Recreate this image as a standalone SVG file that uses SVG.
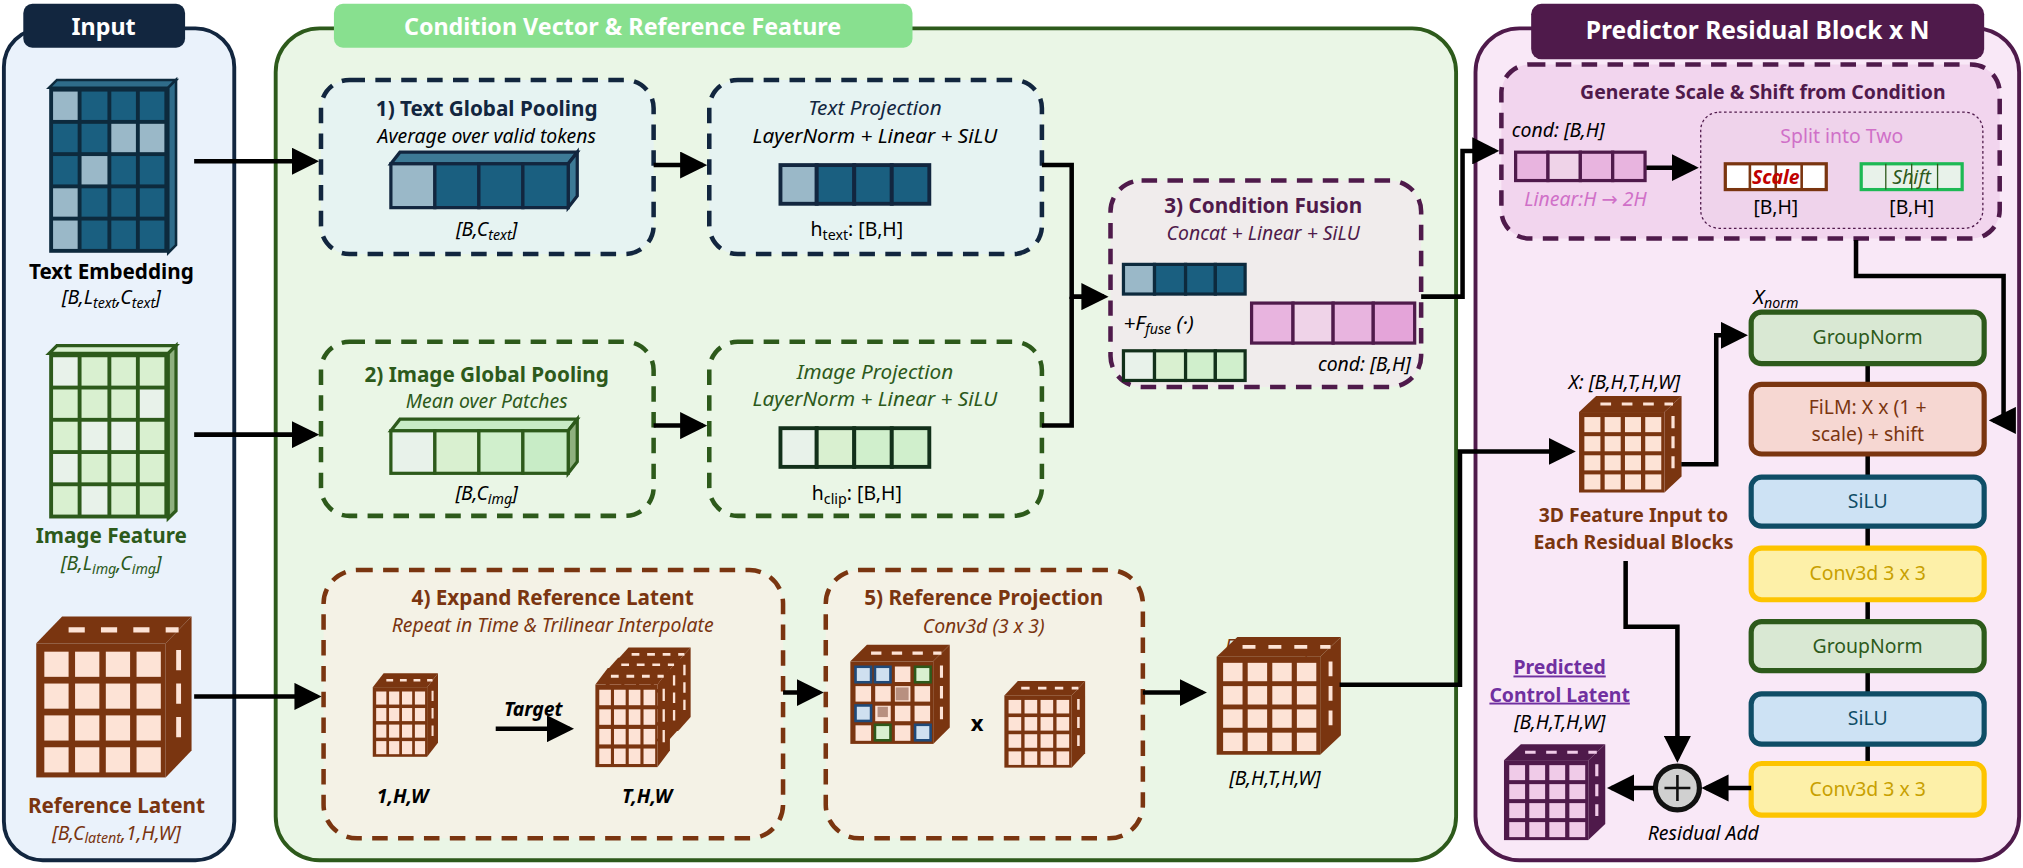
<svg xmlns="http://www.w3.org/2000/svg" width="2023" height="868" viewBox="0 0 2023 868">
<style>
text{font-family:"Noto Sans","DejaVu Sans",sans-serif;font-size:15px;text-anchor:middle}
.b{font-weight:bold}.i{font-style:italic}
.tt{font-size:18px;font-weight:bold;fill:#fff}
.dk{fill:#12263f}.gr{fill:#2d5a1b}.br{fill:#7a3510}.pu{fill:#4f1a4b}.bk{fill:#000}
.ln{fill:none;stroke:#000;stroke-width:3.5}
.dash{stroke-width:3.5;stroke-dasharray:12 8}
.blk{stroke-width:4}
</style>
<defs>
<marker id="ah" markerWidth="6" markerHeight="6" refX="5" refY="3" orient="auto" markerUnits="strokeWidth"><path d="M0,0L6,3L0,6z" fill="#000"/></marker>
<g id="bcube">
<polygon points="0,8 8,0 48,0 40,8" fill="#7a3510"/>
<polygon points="40,8 48,0 48,40 40,48" fill="#7a3510"/>
<path d="M10,4h5M20,4h5M30,4h5M40,4h4" stroke="#fde3d6" stroke-width="1.5"/>
<path d="M44,10v6M44,20v6M44,30v6" stroke="#fde3d6" stroke-width="1.5"/>
<rect x="0" y="8" width="40" height="40" fill="#7a3510"/>
<g fill="#fde3d6"><rect x="2.5" y="10.5" width="7.5" height="7.5"/><rect x="12" y="10.5" width="7.5" height="7.5"/><rect x="21.5" y="10.5" width="7.5" height="7.5"/><rect x="31" y="10.5" width="7.5" height="7.5"/>
<rect x="2.5" y="20" width="7.5" height="7.5"/><rect x="12" y="20" width="7.5" height="7.5"/><rect x="21.5" y="20" width="7.5" height="7.5"/><rect x="31" y="20" width="7.5" height="7.5"/>
<rect x="2.5" y="29.5" width="7.5" height="7.5"/><rect x="12" y="29.5" width="7.5" height="7.5"/><rect x="21.5" y="29.5" width="7.5" height="7.5"/><rect x="31" y="29.5" width="7.5" height="7.5"/>
<rect x="2.5" y="39" width="7.5" height="7.5"/><rect x="12" y="39" width="7.5" height="7.5"/><rect x="21.5" y="39" width="7.5" height="7.5"/><rect x="31" y="39" width="7.5" height="7.5"/></g>
</g>
<g id="pcube">
<polygon points="0,8 8,0 48,0 40,8" fill="#4f1a4b"/>
<polygon points="40,8 48,0 48,40 40,48" fill="#4f1a4b"/>
<path d="M10,4h5M20,4h5M30,4h5M40,4h4" stroke="#f0cbe8" stroke-width="1.5"/>
<path d="M44,10v6M44,20v6M44,30v6" stroke="#f0cbe8" stroke-width="1.5"/>
<rect x="0" y="8" width="40" height="40" fill="#4f1a4b"/>
<g fill="#f0cbe8"><rect x="2.5" y="10.5" width="7.5" height="7.5"/><rect x="12" y="10.5" width="7.5" height="7.5"/><rect x="21.5" y="10.5" width="7.5" height="7.5"/><rect x="31" y="10.5" width="7.5" height="7.5"/>
<rect x="2.5" y="20" width="7.5" height="7.5"/><rect x="12" y="20" width="7.5" height="7.5"/><rect x="21.5" y="20" width="7.5" height="7.5"/><rect x="31" y="20" width="7.5" height="7.5"/>
<rect x="2.5" y="29.5" width="7.5" height="7.5"/><rect x="12" y="29.5" width="7.5" height="7.5"/><rect x="21.5" y="29.5" width="7.5" height="7.5"/><rect x="31" y="29.5" width="7.5" height="7.5"/>
<rect x="2.5" y="39" width="7.5" height="7.5"/><rect x="12" y="39" width="7.5" height="7.5"/><rect x="21.5" y="39" width="7.5" height="7.5"/><rect x="31" y="39" width="7.5" height="7.5"/></g>
</g>
</defs>
<rect width="2023" height="868" fill="#fff"/>
<g transform="scale(1.2943,1.2897)">
<g id="panel-input">
<rect x="3" y="22" width="178" height="645" rx="30" fill="#eaf2fb" stroke="#12263f" stroke-width="3"/>
<rect x="18" y="3" width="125" height="34" rx="7" fill="#12263f"/>
<text x="80" y="27" class="tt">Input</text>
</g>
<g id="panel-cond">
<rect x="213" y="22" width="912" height="645" rx="34" fill="#eaf6e6" stroke="#2d5a1b" stroke-width="3"/>
<rect x="258" y="3" width="447" height="34" rx="7" fill="#88e08f"/>
<text x="481" y="27" class="tt">Condition Vector &amp; Reference Feature</text>
</g>
<g id="panel-pred">
<rect x="1140" y="22" width="420" height="645" rx="34" fill="#f9e8f7" stroke="#4f1a4b" stroke-width="3"/>
<rect x="1183" y="3" width="350" height="43" rx="8" fill="#4f1a4b"/>
<text x="1358" y="30" class="tt" style="font-size:19px">Predictor Residual Block x N</text>
</g>

<g id="text-embedding">
<polygon points="38,68 44,62 136,62 130,68" fill="#2f6c8a" stroke="#0d2a3d" stroke-width="2"/>
<polygon points="130,68 136,62 136,190 130,196" fill="#2f6c8a" stroke="#0d2a3d" stroke-width="2"/>
<rect x="38" y="68" width="92" height="128" fill="#0d2a3d"/>
<g fill="#1a5f80">
<rect x="41" y="71" width="19" height="22" fill="#9ab8c8"/><rect x="63" y="71" width="20" height="22"/><rect x="86" y="71" width="19" height="22"/><rect x="108" y="71" width="19" height="22"/>
<rect x="41" y="96" width="19" height="22"/><rect x="63" y="96" width="20" height="22"/><rect x="86" y="96" width="19" height="22" fill="#9ab8c8"/><rect x="108" y="96" width="19" height="22" fill="#9ab8c8"/>
<rect x="41" y="121" width="19" height="22"/><rect x="63" y="121" width="20" height="22" fill="#9ab8c8"/><rect x="86" y="121" width="19" height="22"/><rect x="108" y="121" width="19" height="22"/>
<rect x="41" y="146" width="19" height="22" fill="#9ab8c8"/><rect x="63" y="146" width="20" height="22"/><rect x="86" y="146" width="19" height="22"/><rect x="108" y="146" width="19" height="22"/>
<rect x="41" y="171" width="19" height="22" fill="#9ab8c8"/><rect x="63" y="171" width="20" height="22"/><rect x="86" y="171" width="19" height="22"/><rect x="108" y="171" width="19" height="22"/>
</g>
<text x="86" y="216" class="b bk" style="font-size:16px">Text Embedding</text>
<text x="86" y="236" class="i bk">[B,L<tspan font-size="11" dy="3">text</tspan><tspan dy="-3">,C</tspan><tspan font-size="11" dy="3">text</tspan><tspan dy="-3">]</tspan></text>
</g>
<g id="image-feature">
<polygon points="38,274 44,268 136,268 130,274" fill="#d9f0d0" stroke="#2d5a1b" stroke-width="2.5"/>
<polygon points="130,274 136,268 136,396 130,402" fill="#8fb07f" stroke="#2d5a1b" stroke-width="2.5"/>
<rect x="38" y="274" width="92" height="128" fill="#2d5a1b"/>
<g fill="#d9f0d0">
<rect x="41" y="277" width="19" height="22" fill="#e8f2ea"/><rect x="63" y="277" width="20" height="22"/><rect x="86" y="277" width="19" height="22"/><rect x="108" y="277" width="19" height="22"/>
<rect x="41" y="302" width="19" height="22"/><rect x="63" y="302" width="20" height="22"/><rect x="86" y="302" width="19" height="22"/><rect x="108" y="302" width="19" height="22" fill="#e8f2ea"/>
<rect x="41" y="327" width="19" height="22"/><rect x="63" y="327" width="20" height="22" fill="#e8f2ea"/><rect x="86" y="327" width="19" height="22" fill="#e8f2ea"/><rect x="108" y="327" width="19" height="22"/>
<rect x="41" y="352" width="19" height="22" fill="#e8f2ea"/><rect x="63" y="352" width="20" height="22"/><rect x="86" y="352" width="19" height="22"/><rect x="108" y="352" width="19" height="22"/>
<rect x="41" y="377" width="19" height="22"/><rect x="63" y="377" width="20" height="22" fill="#e8f2ea"/><rect x="86" y="377" width="19" height="22"/><rect x="108" y="377" width="19" height="22"/>
</g>
<text x="86" y="421" class="b gr" style="font-size:16px">Image Feature</text>
<text x="86" y="442" class="i gr">[B,L<tspan font-size="11" dy="3">img</tspan><tspan dy="-3">,C</tspan><tspan font-size="11" dy="3">img</tspan><tspan dy="-3">]</tspan></text>
</g>
<g id="reference-latent">
<use href="#bcube" transform="translate(28,478) scale(2.5,2.6)"/>
<text x="90" y="630" class="b br" style="font-size:16px">Reference Latent</text>
<text x="90" y="651" class="i br">[B,C<tspan font-size="11" dy="3">latent</tspan><tspan dy="-3">,1,H,W]</tspan></text>
</g>

<g id="text-pool">
<rect x="248" y="62" width="257" height="135" rx="22" fill="#e6f3f2" stroke="#12263f" class="dash"/>
<text x="376" y="90" class="b dk" style="font-size:16px">1) Text Global Pooling</text>
<text x="376" y="111" class="i bk">Average over valid tokens</text>
<g stroke="#12263f" stroke-width="2.5">
<polygon points="302,127 309,118 446,118 439,127" fill="#3d7a96"/>
<polygon points="439,127 446,118 446,152 439,161" fill="#3d7a96"/>
<rect x="302" y="127" width="34" height="34" fill="#9ab8c8"/><rect x="336" y="127" width="34" height="34" fill="#1a5f80"/><rect x="370" y="127" width="34" height="34" fill="#1a5f80"/><rect x="404" y="127" width="35" height="34" fill="#1a5f80"/>
</g>
<text x="376" y="183" class="i bk">[B,C<tspan font-size="11" dy="3">text</tspan><tspan dy="-3">]</tspan></text>
</g>
<g id="text-proj">
<rect x="548" y="62" width="257" height="135" rx="22" fill="#e6f3f2" stroke="#12263f" class="dash"/>
<text x="676" y="89" class="i dk" style="font-size:16px">Text Projection</text>
<text x="676" y="111" class="i bk" style="font-size:16px">LayerNorm + Linear + SiLU</text>
<g stroke="#12263f" stroke-width="3"><rect x="603" y="128" width="28" height="30" fill="#9ab8c8"/><rect x="631" y="128" width="29" height="30" fill="#1a5f80"/><rect x="660" y="128" width="29" height="30" fill="#1a5f80"/><rect x="689" y="128" width="29" height="30" fill="#1a5f80"/></g>
<text x="662" y="183" class="bk">h<tspan font-size="11" dy="3">text</tspan><tspan dy="-3">: [B,H]</tspan></text>
</g>
<g id="img-pool">
<rect x="248" y="265" width="257" height="135" rx="22" fill="#eaf6e6" stroke="#2d5a1b" class="dash"/>
<text x="376" y="296" class="b gr" style="font-size:16px">2) Image Global Pooling</text>
<text x="376" y="316" class="i gr">Mean over Patches</text>
<g stroke="#2d5a1b" stroke-width="2.5">
<polygon points="302,334 309,325 446,325 439,334" fill="#c8ecc6"/>
<polygon points="439,334 446,325 446,358 439,367" fill="#8fb07f"/>
<rect x="302" y="334" width="34" height="33" fill="#e8f2ea"/><rect x="336" y="334" width="34" height="33" fill="#d9f0d0"/><rect x="370" y="334" width="34" height="33" fill="#d0efcc"/><rect x="404" y="334" width="35" height="33" fill="#c8ecc6"/>
</g>
<text x="376" y="388" class="i bk">[B,C<tspan font-size="11" dy="3">img</tspan><tspan dy="-3">]</tspan></text>
</g>
<g id="img-proj">
<rect x="548" y="265" width="257" height="135" rx="22" fill="#eaf6e6" stroke="#2d5a1b" class="dash"/>
<text x="676" y="294" class="i gr" style="font-size:16px">Image Projection</text>
<text x="676" y="315" class="i gr" style="font-size:16px">LayerNorm + Linear + SiLU</text>
<g stroke="#12301a" stroke-width="3"><rect x="603" y="332" width="28" height="30" fill="#e8f2ea"/><rect x="631" y="332" width="29" height="30" fill="#d9f0d0"/><rect x="660" y="332" width="29" height="30" fill="#d0efcc"/><rect x="689" y="332" width="29" height="30" fill="#d0efcc"/></g>
<text x="662" y="388" class="bk">h<tspan font-size="11" dy="3">clip</tspan><tspan dy="-3">: [B,H]</tspan></text>
</g>
<g id="fusion">
<rect x="858" y="140" width="240" height="160" rx="24" fill="#f0ecec" stroke="#4f1a4b" class="dash"/>
<text x="976" y="165" class="b pu" style="font-size:16px">3) Condition Fusion</text>
<text x="976" y="186" class="i pu">Concat + Linear + SiLU</text>
<g stroke="#0d2a3d" stroke-width="2.5"><rect x="868" y="205" width="24" height="23" fill="#9ab8c8"/><rect x="892" y="205" width="24" height="23" fill="#1a5f80"/><rect x="916" y="205" width="23" height="23" fill="#1a5f80"/><rect x="939" y="205" width="23" height="23" fill="#1a5f80"/></g>
<g stroke="#12301a" stroke-width="2.5"><rect x="868" y="272" width="24" height="23" fill="#e8f2ea"/><rect x="892" y="272" width="24" height="23" fill="#d9f0d0"/><rect x="916" y="272" width="23" height="23" fill="#d0efcc"/><rect x="939" y="272" width="23" height="23" fill="#d0efcc"/></g>
<g stroke="#4f1a4b" stroke-width="2.5"><rect x="967" y="235" width="32" height="31" fill="#e8b4df"/><rect x="999" y="235" width="31" height="31" fill="#efd3e8"/><rect x="1030" y="235" width="31" height="31" fill="#e8b4df"/><rect x="1061" y="235" width="32" height="31" fill="#e4a4d9"/></g>
<text x="868" y="256" class="i bk" style="text-anchor:start;font-size:16px">+F<tspan font-size="11" dy="3">fuse</tspan><tspan dy="-3"> (·)</tspan></text>
<text x="1090" y="288" class="i bk" style="text-anchor:end">cond: [B,H]</text>
</g>
<g id="expand-ref">
<rect x="250" y="442" width="355" height="208" rx="26" fill="#f4f2e6" stroke="#7a3510" class="dash"/>
<text x="427" y="469" class="b br" style="font-size:16px">4) Expand Reference Latent</text>
<text x="427" y="490" class="i br">Repeat in Time &amp; Trilinear Interpolate</text>
<use href="#bcube" transform="translate(288,522) scale(1.05,1.35)"/>
<use href="#bcube" transform="translate(476,502) scale(1.2,1.35)"/>
<use href="#bcube" transform="translate(468,510) scale(1.2,1.35)"/>
<use href="#bcube" transform="translate(460,518) scale(1.2,1.6)"/>
<text x="412" y="555" class="i bk b">Target</text>
<line x1="383" y1="565" x2="440" y2="565" class="ln" marker-end="url(#ah)"/>
<text x="311" y="623" class="i bk b">1,H,W</text>
<text x="500" y="623" class="i bk b">T,H,W</text>
</g>
<g id="ref-proj">
<rect x="638" y="442" width="245" height="208" rx="26" fill="#f4f2e6" stroke="#7a3510" class="dash"/>
<text x="760" y="469" class="b br" style="font-size:16px">5) Reference Projection</text>
<text x="760" y="491" class="i br">Conv3d (3 x 3)</text>
<use href="#bcube" transform="translate(657,500) scale(1.6,1.6)"/>
<g fill="#cfe0f0" stroke="#1f4a7a" stroke-width="2"><rect x="661" y="517" width="12" height="12"/><rect x="676" y="517" width="12" height="12"/><rect x="661" y="547" width="12" height="12"/><rect x="707" y="562" width="12" height="12"/></g>
<g fill="#d9f0d0" stroke="#2d5a1b" stroke-width="2"><rect x="676" y="562" width="12" height="12"/><rect x="707" y="517" width="12" height="12"/></g>
<g fill="#b89080"><rect x="692" y="533" width="10" height="10"/><rect x="678" y="548" width="8" height="8"/></g>
<text x="755" y="567" class="b bk" style="font-size:17px">x</text>
<use href="#bcube" transform="translate(776,528) scale(1.3,1.4)"/>
</g>
<g id="feature-ref">
<text x="985" y="506" class="i br">Feature<tspan font-size="11" dy="3">Ref</tspan><tspan dy="-3"> X</tspan></text>
<use href="#bcube" transform="translate(940,494) scale(2,1.9)"/>
<text x="985" y="609" class="i bk">[B,H,T,H,W]</text>
</g>

<g id="gen-scale-shift">
<rect x="1160" y="50" width="385" height="135" rx="22" fill="#f2d5ee" stroke="#4f1a4b" class="dash"/>
<text x="1362" y="77" class="b pu">Generate Scale &amp; Shift from Condition</text>
<text x="1168" y="106" class="i bk" style="text-anchor:start">cond: [B,H]</text>
<g stroke="#4f1a4b" stroke-width="2.5"><rect x="1171" y="118" width="25" height="22" fill="#e8b4df"/><rect x="1196" y="118" width="25" height="22" fill="#efd3e8"/><rect x="1221" y="118" width="25" height="22" fill="#e8b4df"/><rect x="1246" y="118" width="25" height="22" fill="#e8b4df"/></g>
<text x="1225" y="160" class="i" style="fill:#d070c8">Linear:H → 2H</text>
<rect x="1314" y="87" width="218" height="90" rx="14" fill="#efd3eb" stroke="#4f1a4b" stroke-width="1" stroke-dasharray="2 2"/>
<text x="1423" y="111" style="fill:#d070c8">Split into Two</text>
<rect x="1333" y="127" width="78" height="20" fill="#fff" stroke="#7a3510" stroke-width="2.5"/>
<path d="M1352,127v20M1372,127v20M1392,127v20" stroke="#7a3510" stroke-width="2"/>
<text x="1372" y="143" class="i b" style="fill:#c00000">Scale</text>
<rect x="1438" y="127" width="78" height="20" fill="#e8f2ea" stroke="#1db954" stroke-width="2.5"/>
<path d="M1457,127v20M1477,127v20M1497,127v20" stroke="#2d5a1b" stroke-width="1"/>
<text x="1477" y="143" class="i" style="fill:#2d5a1b">Shift</text>
<text x="1372" y="166" class="bk">[B,H]</text>
<text x="1477" y="166" class="bk">[B,H]</text>
</g>
<g id="x-input">
<text x="1255" y="302" class="i bk">X: [B,H,T,H,W]</text>
<use href="#bcube" transform="translate(1220,307) scale(1.65,1.56)"/>
<text x="1262" y="405" class="b br">3D Feature Input to</text>
<text x="1262" y="426" class="b br">Each Residual Blocks</text>
</g>
<g id="layers">
<text x="1372" y="236" class="i bk" style="font-size:16px">X<tspan font-size="11" dy="3">norm</tspan></text>
<path d="M1443,282v198" stroke="#000" stroke-width="3.5" fill="none"/>
<path d="M1443,520v70" stroke="#000" stroke-width="3.5" fill="none"/>
<rect x="1353" y="242" width="180" height="40" rx="8" fill="#d9e8d3" stroke="#2d5a1b" class="blk"/>
<text x="1443" y="267" class="gr">GroupNorm</text>
<rect x="1353" y="298" width="180" height="54" rx="8" fill="#f6d7d2" stroke="#7a3510" class="blk"/>
<text x="1443" y="321" class="br">FiLM: X x (1 +</text>
<text x="1443" y="342" class="br">scale) + shift</text>
<rect x="1353" y="370" width="180" height="38" rx="8" fill="#cde2f4" stroke="#0f4d66" class="blk"/>
<text x="1443" y="394" style="fill:#0f4d66">SiLU</text>
<rect x="1353" y="425" width="180" height="40" rx="8" fill="#fdf0a8" stroke="#fdc400" class="blk"/>
<text x="1443" y="450" style="fill:#c8a000">Conv3d 3 x 3</text>
<rect x="1353" y="482" width="180" height="38" rx="8" fill="#d9e8d3" stroke="#2d5a1b" class="blk"/>
<text x="1443" y="506" class="gr">GroupNorm</text>
<rect x="1353" y="538" width="180" height="39" rx="8" fill="#cde2f4" stroke="#0f4d66" class="blk"/>
<text x="1443" y="562" style="fill:#0f4d66">SiLU</text>
<rect x="1353" y="592" width="180" height="40" rx="8" fill="#fdf0a8" stroke="#fdc400" class="blk"/>
<text x="1443" y="617" style="fill:#c8a000">Conv3d 3 x 3</text>
</g>
<g id="residual-add">
<circle cx="1296" cy="611" r="17" fill="#d0d0d0" stroke="#111" stroke-width="4"/>
<path d="M1286,611h20M1296,601v20" stroke="#111" stroke-width="2"/>
<text x="1316" y="651" class="i bk">Residual Add</text>
</g>
<g id="output">
<text x="1205" y="523" class="b" style="fill:#7030a0;text-decoration:underline">Predicted</text>
<text x="1205" y="544" class="b" style="fill:#7030a0;text-decoration:underline">Control Latent</text>
<text x="1205" y="565" class="i bk">[B,H,T,H,W]</text>
<use href="#pcube" transform="translate(1162,577) scale(1.63,1.55)"/>
</g>

<g id="connectors" class="ln">
<path d="M150,125H243" marker-end="url(#ah)"/>
<path d="M150,337H243" marker-end="url(#ah)"/>
<path d="M150,540H245" marker-end="url(#ah)"/>
<path d="M505,128H543" marker-end="url(#ah)"/>
<path d="M505,330H543" marker-end="url(#ah)"/>
<path d="M805,128H828V230H853" marker-end="url(#ah)"/>
<path d="M805,330H828V230"/>
<path d="M605,537H633" marker-end="url(#ah)"/>
<path d="M883,537H929" marker-end="url(#ah)"/>
<path d="M1035,531H1128V350H1214" marker-end="url(#ah)"/>
<path d="M1098,230H1130V117H1155" marker-end="url(#ah)"/>
<path d="M1272,130H1309" marker-end="url(#ah)"/>
<path d="M1434,186V214H1548V326H1540" marker-end="url(#ah)"/>
<path d="M1299,360H1326V260H1347" marker-end="url(#ah)"/>
<path d="M1256,435V486H1296V588" marker-end="url(#ah)"/>
<path d="M1353,611H1318" marker-end="url(#ah)"/>
<path d="M1278,611H1245" marker-end="url(#ah)"/>
</g>
</g>
</svg>
